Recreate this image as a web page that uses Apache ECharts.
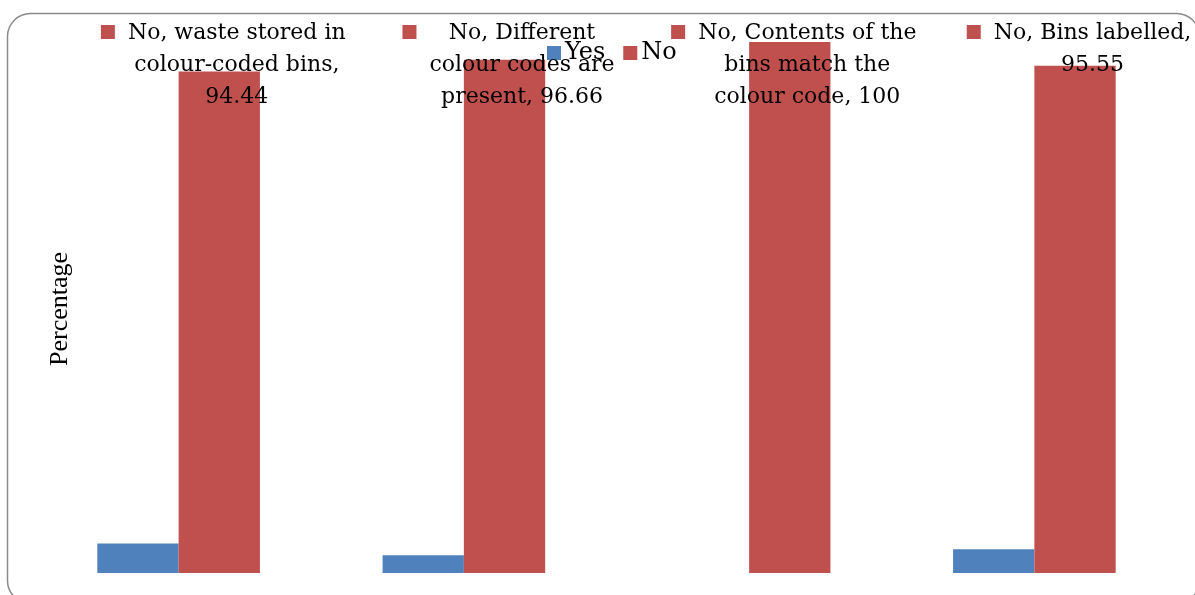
<!DOCTYPE html>
<html>
<head>
<meta charset="utf-8">
<script src="https://cdn.jsdelivr.net/npm/echarts@6/dist/echarts.min.js"></script>
<style>
  html, body { margin: 0; padding: 0; background: #fff; }
  #chart { width: 1195px; height: 595px; }
</style>
</head>
<body>
<div id="chart"></div>
<script>
// Survey of colour-coded waste bins: share of Yes / No answers per item
const categories = [
  'waste stored in\ncolour-coded bins',
  'Different\ncolour codes are\npresent',
  'Contents of the\nbins match the\ncolour code',
  'Bins labelled'
];
const seriesNames = ['Yes', 'No'];
const yesValues = [5.56, 3.34, 0, 4.45];
const noValues = [94.44, 96.66, 100, 95.55];

const labelFont = { family: 'DejaVu Serif', size: 22, lineHeight: 32 };
const catGap = 0.43;

const measureCtx = document.createElement('canvas').getContext('2d');
function textWidth(s) {
  measureCtx.font = labelFont.size + 'px "' + labelFont.family + '"';
  return measureCtx.measureText(s).width;
}

// "Series, Category, Value" text for the No bars, wrapped like the source
function noLabel(i) {
  const lines = (seriesNames[1] + ', ' + categories[i]).split('\n');
  const last = lines[lines.length - 1] + ',';
  const val = String(noValues[i]);
  if (textWidth(last + ' ' + val) > 220) {
    lines[lines.length - 1] = last;
    lines.push(val);
  } else {
    lines[lines.length - 1] = last + ' ' + val;
  }
  return lines.join('\n');
}

const chart = echarts.init(document.getElementById('chart'));
chart.setOption({
  animation: false,
  backgroundColor: '#fff',
  grid: { left: 36, right: 18, top: 42, bottom: 22 },
  legend: {
    data: seriesNames,
    left: 547,
    top: 41,
    padding: 0,
    itemWidth: 14,
    itemHeight: 14,
    itemGap: 18,
    icon: 'rect',
    textStyle: { fontFamily: 'DejaVu Serif', fontSize: 24, color: '#000', padding: [0, 0, 0, -1] }
  },
  xAxis: {
    type: 'category',
    data: categories,
    axisLine: { show: false },
    axisTick: { show: false },
    axisLabel: { show: false },
    splitLine: { show: false }
  },
  yAxis: {
    type: 'value',
    min: 0,
    max: 100,
    axisLine: { show: false },
    axisTick: { show: false },
    axisLabel: { show: false },
    splitLine: { show: false }
  },
  graphic: [
    {
      type: 'rect',
      silent: true,
      z: -10,
      shape: { x: 7.5, y: 13.5, width: 1192, height: 590, r: 23 },
      style: { fill: 'none', stroke: '#8a8a8a', lineWidth: 1.5 }
    },
    {
      type: 'text',
      x: 60,
      y: 309,
      rotation: Math.PI / 2,
      style: {
        text: 'Percentage',
        fontFamily: 'Liberation Serif',
        fontSize: 26,
        fill: '#000',
        align: 'center',
        verticalAlign: 'middle'
      }
    }
  ],
  series: [
    {
      name: seriesNames[0],
      type: 'bar',
      data: yesValues,
      barGap: '0%',
      barCategoryGap: (catGap * 100) + '%',
      itemStyle: { color: '#4F81BD' }
    },
    {
      name: seriesNames[1],
      type: 'bar',
      data: noValues,
      barGap: '0%',
      barCategoryGap: (catGap * 100) + '%',
      itemStyle: { color: '#C0504D' }
    },
    {
      // data labels of the No bars with their legend key, set along the top
      type: 'custom',
      name: 'noLabels',
      clip: false,
      z: 5,
      data: noValues.map((v, i) => [i, v]),
      encode: { x: 0, y: 1 },
      renderItem: function (params, api) {
        const i = api.value(0);
        const c = api.coord([i, 0]);
        const band = api.size([1, 0])[0];
        const barW = band * (1 - catGap) / 2;
        const blockCenter = c[0] + barW / 2 + 4;
        const text = noLabel(i);
        const maxW = Math.max.apply(null, text.split('\n').map(textWidth));
        const keySize = 14, keyGap = 13;
        const blockW = keySize + keyGap + maxW;
        const left = blockCenter - blockW / 2;
        const top = params.coordSys.y - 25;
        return {
          type: 'group',
          children: [
            {
              type: 'rect',
              shape: { x: left, y: top + 8, width: keySize, height: keySize },
              style: { fill: '#C0504D' }
            },
            {
              type: 'text',
              x: left + keySize + keyGap + maxW / 2,
              y: top,
              style: {
                text: text,
                fontFamily: labelFont.family,
                fontSize: labelFont.size,
                lineHeight: labelFont.lineHeight,
                fill: '#000',
                align: 'center',
                verticalAlign: 'top'
              }
            }
          ]
        };
      }
    }
  ]
});
</script>
</body>
</html>
